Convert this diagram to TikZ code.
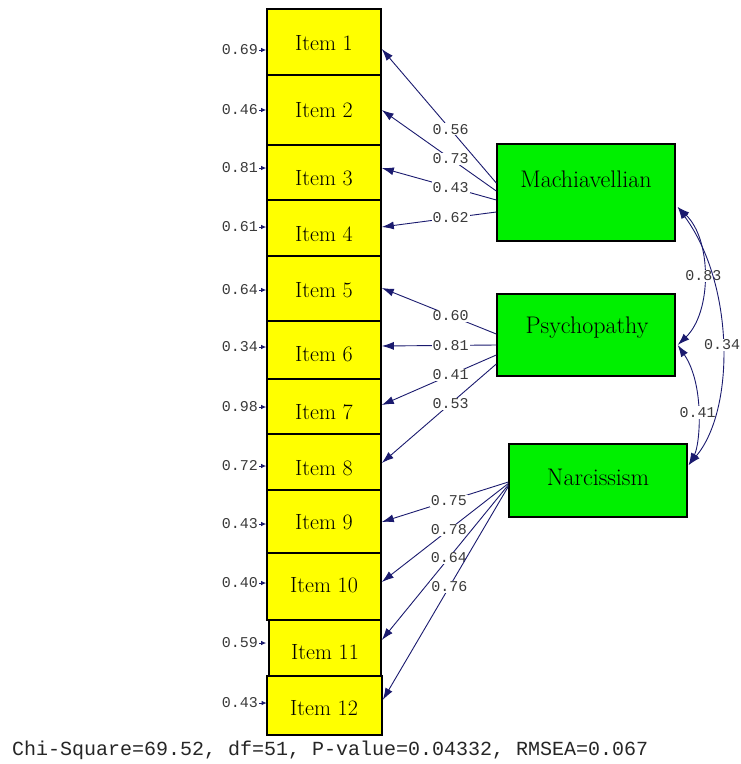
\documentclass[tikz,border=0pt]{standalone}
\usepackage{fontspec}
\newfontfamily\monof{Liberation Mono}
\usetikzlibrary{arrows.meta}
\definecolor{navy}{HTML}{1A1A6E}
\definecolor{lbl}{HTML}{3A3A3A}
\definecolor{ylw}{HTML}{FFFF00}
\definecolor{grn}{HTML}{00F000}
\tikzset{
  ibox/.style={draw=black,line width=1.6pt,fill=ylw,minimum width=114pt,inner sep=0pt},
  lbox/.style={draw=black,line width=1.4pt,fill=grn,minimum width=178pt,inner sep=0pt},
  itxt/.style={font=\fontsize{22}{25}\selectfont,inner sep=0pt},
  ltxt/.style={font=\fontsize{24}{28}\selectfont,inner sep=0pt},
  elbl/.style={font=\monof\fontsize{15}{17}\selectfont,text=lbl,anchor=east,inner sep=1pt},
  plbl/.style={font=\monof\fontsize{15}{17}\selectfont,text=lbl,fill=white,inner sep=1pt},
  ld/.style={draw=navy,line width=0.9pt,-{Latex[length=12pt,width=8pt]}},
  cv/.style={draw=navy,line width=0.9pt,{Latex[length=12pt,width=8pt]}-{Latex[length=12pt,width=8pt]}},
  ea/.style={draw=navy,line width=0.9pt,-{Latex[length=5pt,width=4.5pt]}}
}
\begin{document}
\begin{tikzpicture}[x=1pt,y=-1pt]
\useasboundingbox (0,0) rectangle (740,764);
% item boxes
\node[ibox,minimum height=66pt] (i1) at (324,42) {};
\node[ibox,minimum height=70pt] (i2) at (324,110) {};
\node[ibox,minimum height=55pt] (i3) at (324,172.5) {};
\node[ibox,minimum height=56pt] (i4) at (324,228) {};
\node[ibox,minimum height=65pt] (i5) at (324,288.5) {};
\node[ibox,minimum height=58pt] (i6) at (324,350) {};
\node[ibox,minimum height=55pt] (i7) at (324,406.5) {};
\node[ibox,minimum height=56pt] (i8) at (324,462) {};
\node[ibox,minimum height=63pt] (i9) at (324,521.5) {};
\node[ibox,minimum height=67pt] (i10) at (324,586.5) {};
\node[ibox,minimum height=56pt,minimum width=112pt] (i11) at (325,648) {};
\node[ibox,minimum height=59pt,minimum width=115pt] (i12) at (324.5,705.5) {};
% item texts
\node[itxt] (t1) at (324,43) {Item 1};
\node[itxt] (t2) at (324,110) {Item 2};
\node[itxt] (t3) at (324,178) {Item 3};
\node[itxt] (t4) at (324,234) {Item 4};
\node[itxt] (t5) at (324,290) {Item 5};
\node[itxt] (t6) at (324,354) {Item 6};
\node[itxt] (t7) at (324,412) {Item 7};
\node[itxt] (t8) at (324,468) {Item 8};
\node[itxt] (t9) at (324,522) {Item 9};
\node[itxt] (t10) at (324,585) {Item 10};
\node[itxt] (t11) at (325,652) {Item 11};
\node[itxt] (t12) at (324,708) {Item 12};
% latent boxes
\node[lbox,minimum height=97pt] (mach) at (586,192.5) {};
\node[lbox,minimum height=82pt] (psy) at (586,335) {};
\node[lbox,minimum height=73pt] (nar) at (598,480.5) {};
\node[ltxt] (tm) at (586,179) {Machiavellian};
\node[ltxt] (tp) at (587,328) {Psychopathy};
\node[ltxt] (tn) at (598,477) {Narcissism};
% error labels and arrows
\node[elbl] (e1) at (259,50) {0.69};
\node[elbl] (e2) at (259,110) {0.46};
\node[elbl] (e3) at (259,168) {0.81};
\node[elbl] (e4) at (259,227) {0.61};
\node[elbl] (e5) at (259,290) {0.64};
\node[elbl] (e6) at (259,347) {0.34};
\node[elbl] (e7) at (259,407) {0.98};
\node[elbl] (e8) at (259,466) {0.72};
\node[elbl] (e9) at (259,524) {0.43};
\node[elbl] (e10) at (259,583) {0.40};
\node[elbl] (e11) at (259,643) {0.59};
\node[elbl] (e12) at (259,703) {0.43};
\draw[ea] (e1.east) -- ([yshift=-8pt]i1.west);
\draw[ea] (e2.east) -- (i2.west);
\draw[ea] (e3.east) -- ([yshift=4.5pt]i3.west);
\draw[ea] (e4.east) -- ([yshift=1pt]i4.west);
\draw[ea] (e5.east) -- ([yshift=-1.5pt]i5.west);
\draw[ea] (e6.east) -- ([yshift=3pt]i6.west);
\draw[ea] (e7.east) -- ([yshift=-0.5pt]i7.west);
\draw[ea] (e8.east) -- ([yshift=-4pt]i8.west);
\draw[ea] (e9.east) -- ([yshift=-2.5pt]i9.west);
\draw[ea] (e10.east) -- ([yshift=3.5pt]i10.west);
\draw[ea] (e11.east) -- ([xshift=-2pt,yshift=5pt]i11.west);
\draw[ea] (e12.east) -- ([xshift=0.5pt,yshift=2.5pt]i12.west);
% loadings: Machiavellian
\draw[ld] ([yshift=9.5pt]mach.west) -- node[plbl,pos=0.4] (l1) {0.56} ([yshift=-7pt]i1.east);
\draw[ld] ([yshift=1.5pt]mach.west) -- node[plbl,pos=0.4] (l2) {0.73} (i2.east);
\draw[ld] ([yshift=-7.5pt]mach.west) -- node[plbl,pos=0.4] (l3) {0.43} ([yshift=4.5pt]i3.east);
\draw[ld] ([yshift=-19.5pt]mach.west) -- node[plbl,pos=0.4] (l4) {0.62} ([yshift=1pt]i4.east);
% Psychopathy
\draw[ld] ([yshift=1pt]psy.west) -- node[plbl,pos=0.4] (l5) {0.60} ([yshift=0.5pt]i5.east);
\draw[ld] ([yshift=-10pt]psy.west) -- node[plbl,pos=0.4] (l6) {0.81} ([yshift=4pt]i6.east);
\draw[ld] ([yshift=-20pt]psy.west) -- node[plbl,pos=0.4] (l7) {0.41} ([yshift=1.5pt]i7.east);
\draw[ld] ([yshift=-29pt]psy.west) -- node[plbl,pos=0.4] (l8) {0.53} ([yshift=-1pt]i8.east);
% Narcissism
\draw[ld] ([yshift=-1.5pt]nar.west) -- node[plbl,pos=0.47] (l9) {0.75} ([yshift=-0.5pt]i9.east);
\draw[ld] ([yshift=-3pt]nar.west) -- node[plbl,pos=0.47] (l10) {0.78} ([yshift=4.5pt]i10.east);
\draw[ld] ([yshift=-4.5pt]nar.west) -- node[plbl,pos=0.47] (l11) {0.64} ([yshift=8pt]i11.east);
\draw[ld] ([yshift=-6pt]nar.west) -- node[plbl,pos=0.47] (l12) {0.76} ([yshift=5.5pt]i12.east);
% covariances
\draw[cv] ([xshift=2pt,yshift=-14.5pt]mach.east) .. controls (712,240) and (712,312) .. node[plbl,pos=0.5] (c1) {0.83} ([xshift=2pt,yshift=-10pt]psy.east);
\draw[cv] ([xshift=2pt,yshift=-10pt]psy.east) .. controls (705,385) and (700,445) .. node[plbl,pos=0.5] (c2) {0.41} ([xshift=1pt,yshift=15.5pt]nar.east);
\draw[cv] ([xshift=2pt,yshift=-14.5pt]mach.east) .. controls (735,285) and (735,410) .. node[plbl,pos=0.5] (c3) {0.34} ([xshift=1pt,yshift=15.5pt]nar.east);
% fit statistics
\node[font=\monof\fontsize{20}{23}\selectfont,text=black!85,anchor=base west,inner sep=0pt] (fit) at (12,755) {Chi-Square=69.52, df=51, P-value=0.04332, RMSEA=0.067};
\end{tikzpicture}
\end{document}
